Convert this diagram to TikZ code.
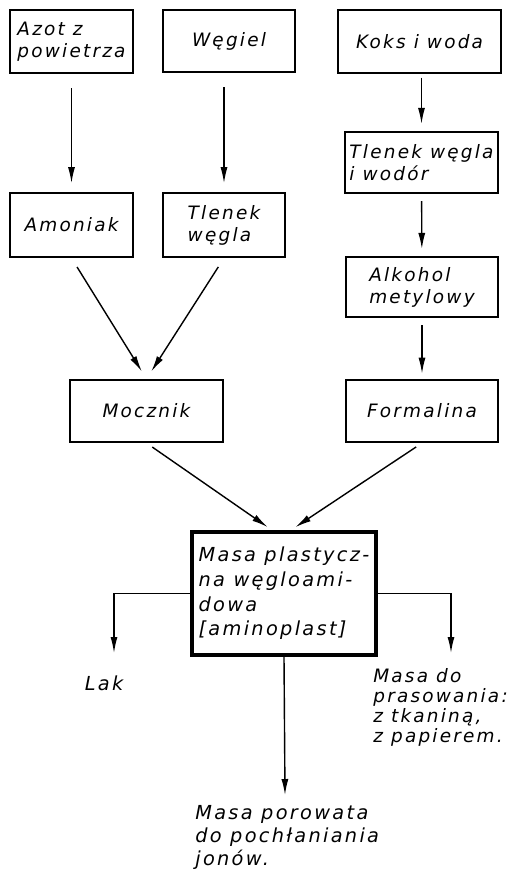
\documentclass[tikz,border=0pt]{standalone}
\usepackage{fontspec}
\setmainfont{DejaVu Sans}[LetterSpace=12]
\usetikzlibrary{arrows.meta,calc}

\begin{document}
\begin{tikzpicture}[x=0.02cm, y=-0.02cm, font=\itshape\fontsize{10.5}{12.5}\selectfont,
    box/.style={draw, line width=1.2pt, align=left, inner sep=2pt},
    flow/.style={-{Latex[length=3.2mm,width=1.4mm]}, thick, shorten <=6pt, shorten >=5pt},
    branch/.style={-{Latex[length=3.2mm,width=1.4mm]}, thick}]
    \useasboundingbox (0,0) rectangle (523,880);

    \node[box, minimum width=2.46cm, minimum height=1.26cm] (azot) at (71.5,41.5) {Azot z\\powietrza};
    \node[box, minimum width=2.64cm, minimum height=1.24cm] (wegiel) at (229,41) {Węgiel};
    \node[box, minimum width=3.26cm, minimum height=1.26cm] (koks) at (419.5,41.5) {Koks i woda};
    \node[box, minimum width=3.06cm, minimum height=1.22cm] (tlwod) at (421.5,162.5) {Tlenek węgla\\i wodór};
    \node[box, minimum width=2.46cm, minimum height=1.28cm] (amoniak) at (71.5,225) {Amoniak};
    \node[box, minimum width=2.44cm, minimum height=1.28cm] (tlenek) at (224,225) {Tlenek\\węgla};
    \node[box, minimum width=3.04cm, minimum height=1.2cm] (alkohol) at (422,287) {Alkohol\\metylowy};
    \node[box, minimum width=3.06cm, minimum height=1.24cm] (mocznik) at (146.5,411) {Mocznik};
    \node[box, minimum width=3.04cm, minimum height=1.24cm] (formalina) at (422,411) {Formalina};
    \node[box, line width=2.2pt, minimum width=3.68cm, minimum height=2.46cm,
        font=\itshape\fontsize{11}{14}\selectfont] (masa) at (284,593.5)
        {Masa plastycz-\\na węgloami-\\dowa\\{[aminoplast]}};

    \node[font=\itshape\fontsize{11}{13}\selectfont] (lak) at (104,683) {Lak};
    \node[anchor=north west, align=left, inner sep=0pt, font=\itshape\fontsize{10.5}{11.5}\selectfont]
        (prasa) at (373,668) {Masa do\\prasowania:\\z tkaniną,\\z papierem.};
    \node[anchor=north west, align=left, inner sep=0pt, font=\itshape\fontsize{11}{13}\selectfont]
        (porowata) at (195,805) {Masa porowata\\do pochłaniania\\jonów.};

    \coordinate (lewy) at (114,653);
    \coordinate (prawy) at (451,653);
    \coordinate (dol) at (285,795);

    \draw[flow, shorten <=8pt] (azot) -- (amoniak);
    \draw[flow, shorten <=8pt] (wegiel.south -| tlenek.north) -- (tlenek.north);
    \draw[flow, shorten <=2pt, shorten >=4pt] (koks.south -| tlwod.north) -- (tlwod.north);
    \draw[flow, shorten <=4pt, shorten >=4pt] (tlwod) -- (alkohol);
    \draw[flow, shorten <=4pt, shorten >=3pt] (alkohol) -- (formalina);
    \draw[flow] (amoniak.south) -- (mocznik.north);
    \draw[flow] (tlenek.south) -- (mocznik.north);
    \draw[flow, shorten <=4pt, shorten >=3pt] (mocznik.south) -- ($(masa.north)+(-12,0)$);
    \draw[flow, shorten <=4pt, shorten >=3pt] (formalina.south) -- ($(masa.north)+(7,0)$);
    \draw[branch] (masa.west) -| (lewy);
    \draw[branch] (masa.east) -| (prawy);
    \draw[branch] (masa.south) -- (dol);
\end{tikzpicture}
\end{document}
